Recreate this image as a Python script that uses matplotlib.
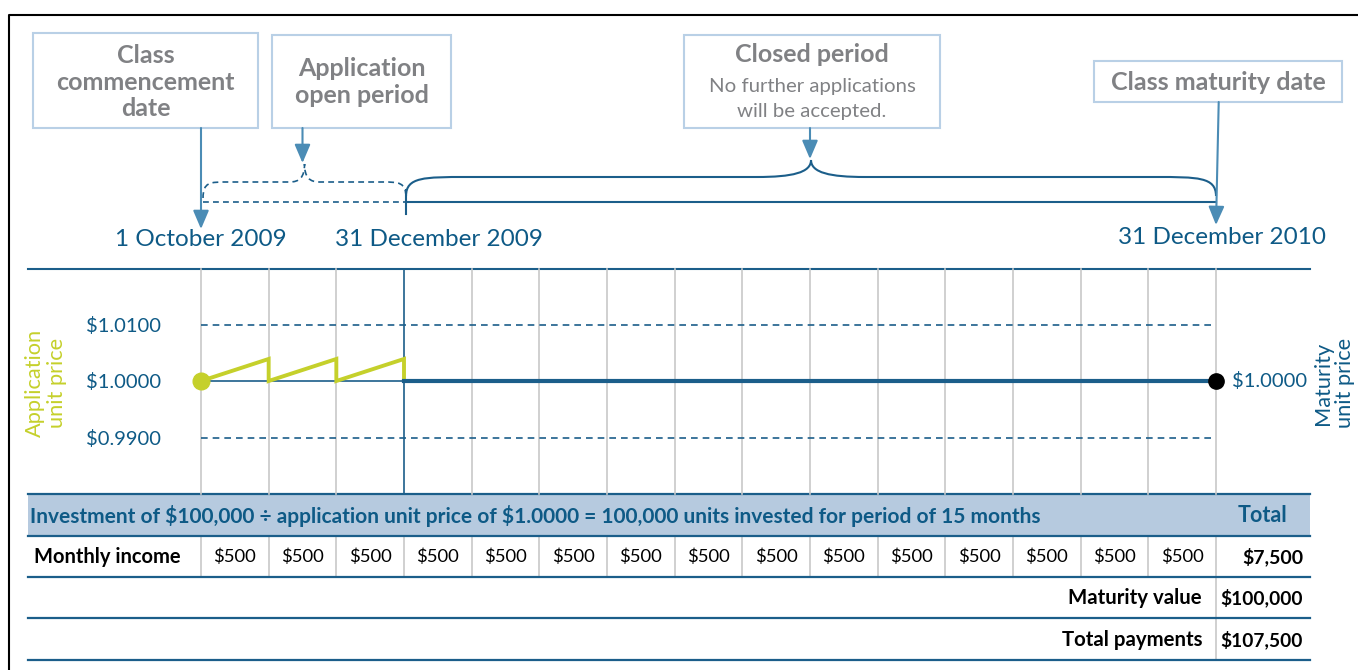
import matplotlib
matplotlib.use("Agg")
import matplotlib.pyplot as plt
from matplotlib.patches import Rectangle, PathPatch
from matplotlib.path import Path

plt.rcParams["font.family"] = ["Lato", "DejaVu Sans"]
plt.rcParams["text.parse_math"] = False

# ---- data ----
n_months = 15
open_months = 3                      # application open period (Oct-Dec 2009)
app_start_price = 1.0000
app_month_end_price = [1.0039, 1.0039, 1.0039]
maturity_price = 1.0000
price_ticks = [1.0100, 1.0000, 0.9900]
price_tick_labels = ["$1.0100", "$1.0000", "$0.9900"]
investment = 100000
monthly_income = [500] * n_months
maturity_value = 100000
dates = ["1 October 2009", "31 December 2009", "31 December 2010"]

# ---- colours ----
DARK = "#0e5a86"
LINE = "#1b5e8a"
ARROW = "#4b8cb5"
BOX = "#b9d0e6"
GREY_TXT = "#808184"
YELLOW = "#c5d02b"
BAND = "#b6cadf"
GRID = "#c8c8c8"

W, H = 1358, 670
PX0, PX1 = 201, 1216                 # pixel position of month 0 and month 15
PPM = (PX1 - PX0) / n_months

fig = plt.figure(figsize=(W / 100, H / 100), dpi=100)

# pixel axes for boxes/frame
ax = fig.add_axes([0, 0, 1, 1])
ax.set_xlim(0, W)
ax.set_ylim(H, 0)
ax.axis("off")

# timeline axes: x in months, y in pixels
tl = fig.add_axes([0, 0, 1, 1])
tl.set_xlim(-PX0 / PPM, (W - PX0) / PPM)
tl.set_ylim(H, 0)
tl.axis("off")
L, R = (28 - PX0) / PPM, (1310 - PX0) / PPM

# frame
ax.plot([9, 9, W], [H, 15, 15], color="black", lw=1.5)

# ---- label boxes ----
boxes = [
    (33, 33, 258, 128),
    (272, 35, 451, 128),
    (684, 35, 940, 128),
    (1094, 61, 1342, 102),
]
for x0, y0, x1, y1 in boxes:
    ax.add_patch(Rectangle((x0, y0), x1 - x0, y1 - y0, fill=False,
                           edgecolor=BOX, lw=1.5))

bold_box = dict(ha="center", va="center", color=GREY_TXT, fontsize=18,
                fontweight="bold", linespacing=1.18)
ax.text(145.5, 82, "Class\ncommencement\ndate", **bold_box)
ax.text(361.5, 82, "Application\nopen period", **bold_box)
ax.text(812, 55, "Closed period", **bold_box)
ax.text(812, 99, "No further applications\nwill be accepted.", ha="center",
        va="center", color=GREY_TXT, fontsize=14.7, linespacing=1.6)
ax.text(1218, 82, "Class maturity date", **bold_box)

# ---- arrows ----
arrow_kw = dict(arrowstyle="-|>,head_length=0.75,head_width=0.32", color=ARROW,
                lw=1.5, shrinkA=0, shrinkB=0, mutation_scale=15)
tl.annotate("", xy=(0, 229), xytext=(0, 128), arrowprops=arrow_kw)
tl.annotate("", xy=(open_months / 2, 163), xytext=(open_months / 2, 128),
            arrowprops=arrow_kw)
mid_closed = (open_months + n_months) / 2
tl.annotate("", xy=(mid_closed, 159), xytext=(mid_closed, 128), arrowprops=arrow_kw)
tl.annotate("", xy=(n_months, 225), xytext=(n_months + 0.04, 102),
            arrowprops=arrow_kw)


def brace(x0, x1, y_end, y_top, y_tip, r_end, r_mid, **kw):
    xm = (x0 + x1) / 2
    d = y_top - y_tip
    verts = [(x0, y_end), (x0, y_top), (x0 + 0.3 * r_end, y_top), (x0 + r_end, y_top),
             (xm - r_mid, y_top),
             (xm - 0.35 * r_mid, y_top), (xm, y_top - 0.25 * d), (xm, y_tip),
             (xm, y_top - 0.25 * d), (xm + 0.35 * r_mid, y_top), (xm + r_mid, y_top),
             (x1 - r_end, y_top),
             (x1 - 0.3 * r_end, y_top), (x1, y_top), (x1, y_end)]
    codes = ([Path.MOVETO] + [Path.CURVE4] * 3 + [Path.LINETO] + [Path.CURVE4] * 6
             + [Path.LINETO] + [Path.CURVE4] * 3)
    tl.add_patch(PathPatch(Path(verts, codes), fill=False, **kw))


brace(0.03, open_months + 0.03, 198, 182, 164, 0.35, 0.22, edgecolor=LINE, lw=1.2,
      linestyle=(0, (3.5, 2.5)))
brace(open_months + 0.03, n_months, 196, 177, 160, 0.9, 0.8, edgecolor=LINE, lw=1.5)

tl.plot([0.03, open_months + 0.03], [202, 202], color=LINE, lw=1.2, ls=(0, (3.5, 2.5)))
tl.plot([open_months + 0.03, n_months], [202, 202], color=LINE, lw=1.5)
tl.plot([open_months + 0.03, open_months + 0.03], [190, 214], color=LINE, lw=1.5)

date_kw = dict(ha="center", va="center", color=DARK, fontsize=17.5)
tl.text(0, 239, dates[0], **date_kw)
tl.text(open_months + 0.52, 239, dates[1], **date_kw)
tl.text(n_months + 0.09, 237, dates[2], **date_kw)

# ---- price chart ----
top_px, bot_px = 269, 494
px_per_unit = 5650.0
ax_p = fig.add_axes([PX0 / W, (H - bot_px) / H, (PX1 - PX0) / W, (bot_px - top_px) / H])
ax_p.set_xlim(0, n_months)
ax_p.set_ylim(1.0 - (bot_px - 381) / px_per_unit, 1.0 + (381 - top_px) / px_per_unit)
ax_p.patch.set_alpha(0)
for s in ax_p.spines.values():
    s.set_visible(False)
ax_p.set_xticks([])
ax_p.set_yticks(price_ticks, price_tick_labels)
ax_p.tick_params(axis="y", length=0, pad=29, labelsize=14.5, labelcolor=DARK)

for m in range(n_months + 1):
    ax_p.axvline(m, color=LINE if m == open_months else GRID, lw=1.2, zorder=1,
                 clip_on=False)
ax_p.hlines([price_ticks[0], price_ticks[2]], 0, n_months, colors=LINE, lw=1.2,
            linestyles=(0, (4, 3)), zorder=2)
ax_p.plot([0, open_months], [app_start_price, app_start_price], color=LINE, lw=1.2,
          zorder=3)

saw_x, saw_y = [], []
for i, p in enumerate(app_month_end_price):
    saw_x += [i, i + 1]
    saw_y += [app_start_price, p]
saw_x.append(open_months)
saw_y.append(app_start_price)
ax_p.plot(saw_x, saw_y, color=YELLOW, lw=2.8, zorder=4, solid_joinstyle="miter")
ax_p.plot([0], [app_start_price], "o", color=YELLOW, ms=12, zorder=5, clip_on=False)

ax_p.plot([open_months, n_months], [maturity_price, maturity_price], color=LINE,
          lw=3, zorder=4)
ax_p.plot([n_months], [maturity_price], "o", color="black", ms=11, zorder=5,
          clip_on=False)
ax_p.text(n_months + 0.24, maturity_price, "$%.4f" % maturity_price, ha="left",
          va="center", color=DARK, fontsize=14.5, clip_on=False)

ax.text(46, 383, "Application\nunit price", rotation=90, ha="center", va="center",
        color=YELLOW, fontsize=15.7, linespacing=1.08)
ax.text(1334, 383, "Maturity\nunit price", rotation=90, ha="center", va="center",
        color=DARK, fontsize=15.7, linespacing=1.08)

# ---- table ----
tl.plot([L, R], [top_px, top_px], color=LINE, lw=1.5)
tl.add_patch(Rectangle((L, 494), R - L, 42, facecolor=BAND, edgecolor="none"))
for y in [494, 536, 577, 618, 660]:
    tl.plot([L, R], [y, y], color=LINE, lw=1.6, zorder=3)
tl.vlines(range(n_months + 1), 536, 577, colors=GRID, lw=1.2)
tl.vlines([n_months], 577, 660, colors=GRID, lw=1.2)

units = investment / app_start_price
header = ("Investment of ${:,} \u00f7 application unit price of ${:.4f} = {:,.0f} units "
          "invested for period of {} months").format(investment, app_start_price,
                                                      units, n_months)
tl.text((30 - PX0) / PPM, 516, header, ha="left", va="center", color=DARK,
        fontsize=15.05, fontweight="bold")
tl.text(n_months + 0.68, 516, "Total", ha="center", va="center", color=DARK,
        fontsize=15.5, fontweight="bold")

tl.text((34 - PX0) / PPM, 557, "Monthly income", ha="left", va="center",
        color="black", fontsize=14.5, fontweight="bold")
for i, v in enumerate(monthly_income):
    tl.text(i + 0.5, 557, "${:,}".format(v), ha="center", va="center",
            color="black", fontsize=13.3)

total_income = sum(monthly_income)
rx = (1303 - PX0) / PPM
lx = (1202 - PX0) / PPM
tl.text(rx, 557, "${:,}".format(total_income), ha="right", va="center",
        color="black", fontsize=14, fontweight="bold")
tl.text(lx, 598, "Maturity value", ha="right", va="center", color="black",
        fontsize=14.7, fontweight="bold")
tl.text(rx, 598, "${:,}".format(maturity_value), ha="right", va="center",
        color="black", fontsize=13.8, fontweight="bold")
tl.text(lx, 640, "Total payments", ha="right", va="center", color="black",
        fontsize=14.7, fontweight="bold")
tl.text(rx, 640, "${:,}".format(total_income + maturity_value), ha="right",
        va="center", color="black", fontsize=13.8, fontweight="bold")

fig.savefig("out.png", dpi=100)
